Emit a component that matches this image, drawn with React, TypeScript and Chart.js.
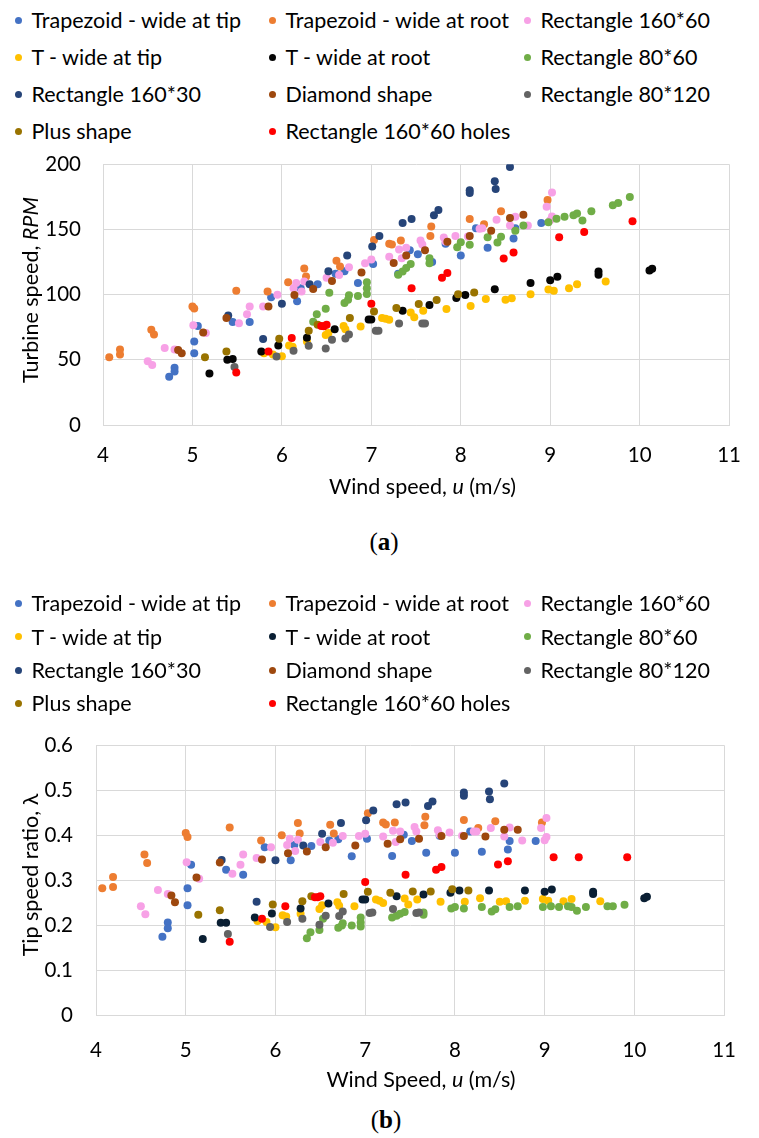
import React, { useEffect, useRef } from "react";
import { Chart, registerables } from "chart.js";

Chart.register(...registerables);

// ---------------- data ----------------
const seriesNames = [
  "Trapezoid - wide at tip",
  "Trapezoid - wide at root",
  "Rectangle 160*60",
  "T - wide at tip",
  "T - wide at root",
  "Rectangle 80*60",
  "Rectangle 160*30",
  "Diamond shape",
  "Rectangle 80*120",
  "Plus shape",
  "Rectangle 160*60 holes",
];

const colorsA = ["#4472C4", "#ED7D31", "#F7A1E6", "#FFC000", "#050505", "#70AD47", "#264478", "#9E480E", "#636363", "#997300", "#FF0000"];
const colorsB = ["#4472C4", "#ED7D31", "#F7A1E6", "#FFC000", "#0A1F33", "#70AD47", "#264478", "#9E480E", "#636363", "#997300", "#FF0000"];

const xTicks = [4, 5, 6, 7, 8, 9, 10, 11];
const rpmTicks = [0, 50, 100, 150, 200];
const tsrTicks = [0, 0.1, 0.2, 0.3, 0.4, 0.5, 0.6];

const trapTipX = [4.74, 4.8, 4.8, 5.02, 5.02, 5.06, 5.45, 5.64, 5.88, 6.17, 6.21, 6.4, 6.6, 6.7, 6.85, 7.02, 7.3, 7.43, 7.52, 7.68, 7.83, 8.0, 8.17, 8.3, 8.59, 8.61, 8.9];
const trapTipRpm = [37, 44, 41, 64, 55, 76, 79, 79, 98, 95, 105, 108, 116, 118, 109, 123.5, 116, 134, 131, 125, 139, 130, 151, 136, 143, 151, 155];
const trapTipTsr = [0.174, 0.206, 0.193, 0.282, 0.244, 0.334, 0.323, 0.312, 0.373, 0.344, 0.378, 0.376, 0.388, 0.391, 0.353, 0.392, 0.354, 0.401, 0.387, 0.361, 0.399, 0.361, 0.408, 0.363, 0.368, 0.387, 0.387];

const trapRootX = [4.07, 4.19, 4.19, 4.54, 4.57, 5.0, 5.02, 5.49, 5.84, 6.07, 6.25, 6.27, 6.61, 6.65, 7.03, 7.2, 7.23, 7.33, 7.66, 7.67, 8.1, 8.26, 8.45, 8.97];
const trapRootRpm = [52, 58, 54, 73, 69.5, 91, 89.4, 103, 102.5, 109.5, 120, 114, 126, 121.5, 142, 139, 138.5, 141.5, 145, 152.3, 158, 154, 164, 172.6];
const trapRootTsr = [0.282, 0.307, 0.285, 0.357, 0.338, 0.405, 0.396, 0.417, 0.388, 0.4, 0.427, 0.404, 0.423, 0.404, 0.449, 0.428, 0.424, 0.428, 0.422, 0.441, 0.434, 0.416, 0.431, 0.428];

const rect16060X = [4.5, 4.55, 4.69, 4.8, 5.01, 5.15, 5.52, 5.61, 5.64, 5.79, 5.95, 6.13, 6.16, 6.22, 6.25, 6.5, 6.64, 6.75, 6.93, 7.0, 7.2, 7.31, 7.34, 7.39, 7.55, 7.57, 7.81, 7.83, 7.94, 8.08, 8.21, 8.24, 8.4, 8.55, 8.61, 8.75, 8.96, 9.02, 9.02, 9.0];
const rect16060Rpm = [49, 46, 59, 58, 76.5, 70.5, 78, 85, 91, 91, 100, 105, 109, 102.5, 110, 113, 115, 121, 124, 127, 129, 134.6, 128, 136, 141.5, 138.4, 143.8, 140.8, 145, 144.7, 150.6, 151, 157.4, 153, 159.8, 153, 167.4, 178.3, 160, 157];
const rect16060Tsr = [0.242, 0.224, 0.278, 0.269, 0.34, 0.303, 0.314, 0.334, 0.357, 0.349, 0.373, 0.378, 0.392, 0.365, 0.39, 0.385, 0.383, 0.398, 0.398, 0.403, 0.397, 0.41, 0.385, 0.408, 0.418, 0.408, 0.411, 0.401, 0.406, 0.399, 0.408, 0.408, 0.416, 0.397, 0.417, 0.388, 0.416, 0.438, 0.396, 0.389];

const tTipX = [5.8, 5.9, 6.0, 6.08, 6.12, 6.28, 6.49, 6.52, 6.69, 6.71, 6.88, 7.12, 7.16, 7.2, 7.44, 7.48, 7.58, 7.84, 8.11, 8.28, 8.5, 8.57, 8.78, 8.98, 9.04, 9.21, 9.3, 9.62];
const tTipRpm = [55, 54, 52.7, 61, 60, 64, 69, 70.5, 76, 73.5, 75.5, 82, 81.5, 80.8, 86.4, 82.7, 87.7, 88.9, 91.3, 96.7, 96, 97.3, 100.3, 104, 103, 105, 108, 110];
const tTipTsr = [0.209, 0.207, 0.195, 0.222, 0.219, 0.225, 0.236, 0.244, 0.251, 0.243, 0.242, 0.257, 0.254, 0.249, 0.259, 0.246, 0.257, 0.252, 0.252, 0.26, 0.252, 0.253, 0.254, 0.258, 0.254, 0.253, 0.258, 0.253];

const tRootX = [5.19, 5.39, 5.45, 5.77, 5.96, 6.28, 6.59, 6.97, 7.0, 7.35, 7.65, 7.95, 8.05, 8.38, 8.78, 9.0, 9.08, 9.54, 9.54, 10.11, 10.14];
const tRootRpm = [39.5, 50, 50.6, 56.3, 61, 67, 73.5, 81, 81, 87.7, 92, 97.5, 99.8, 104.2, 108.9, 111, 113.8, 117.8, 115.3, 118.5, 119.8];
const tRootTsr = [0.169, 0.205, 0.205, 0.217, 0.226, 0.237, 0.248, 0.257, 0.257, 0.264, 0.268, 0.272, 0.277, 0.277, 0.277, 0.274, 0.279, 0.274, 0.269, 0.26, 0.263];

const rect8060X = [6.35, 6.39, 6.49, 6.53, 6.7, 6.74, 6.75, 6.85, 6.95, 6.95, 6.95, 7.3, 7.35, 7.39, 7.44, 7.65, 7.65, 7.96, 8.0, 8.1, 8.3, 8.41, 8.45, 8.61, 8.7, 8.98, 9.07, 9.16, 9.26, 9.3, 9.36, 9.46, 9.7, 9.76, 9.89];
const rect8060Rpm = [79.3, 85, 89.1, 101.5, 93.5, 96, 99.5, 99, 109.5, 105, 100.5, 115.3, 117.8, 120.5, 123.5, 128, 124, 136.3, 140.2, 138.3, 144, 140, 144.4, 149, 153, 155.6, 158.3, 159.8, 161, 162.2, 156.8, 164, 168.6, 170.4, 175];
const rect8060Tsr = [0.171, 0.184, 0.189, 0.214, 0.194, 0.199, 0.204, 0.199, 0.217, 0.206, 0.197, 0.217, 0.221, 0.225, 0.229, 0.228, 0.223, 0.237, 0.24, 0.237, 0.24, 0.23, 0.235, 0.24, 0.242, 0.24, 0.242, 0.24, 0.242, 0.24, 0.232, 0.24, 0.242, 0.242, 0.245];

const rect16030X = [5.4, 5.79, 6.0, 6.31, 6.52, 6.73, 7.01, 7.09, 7.35, 7.45, 7.7, 7.75, 8.1, 8.1, 8.38, 8.39, 8.55];
const rect16030Rpm = [84, 66, 93, 108, 118, 130, 137, 145, 155, 158, 161, 165, 180, 178, 187, 181, 198];
const rect16030Tsr = [0.345, 0.252, 0.344, 0.377, 0.403, 0.427, 0.433, 0.455, 0.469, 0.473, 0.465, 0.475, 0.495, 0.488, 0.497, 0.48, 0.515];

const diamondX = [4.84, 4.88, 5.12, 5.38, 5.85, 6.14, 6.35, 6.56, 6.89, 7.25, 7.39, 7.6, 7.85, 8.1, 8.34, 8.55, 8.7];
const diamondRpm = [57.5, 55, 71, 82, 91, 99.7, 104.3, 110.5, 117, 124.3, 130, 134, 140.6, 145, 149, 158.8, 161.3];
const diamondTsr = [0.266, 0.251, 0.306, 0.339, 0.346, 0.36, 0.364, 0.373, 0.377, 0.381, 0.391, 0.392, 0.398, 0.398, 0.397, 0.412, 0.412];

const rect80120X = [5.47, 5.94, 6.13, 6.3, 6.49, 6.56, 6.71, 6.75, 7.05, 7.08, 7.31, 7.57, 7.6];
const rect80120Rpm = [44.4, 52.5, 57, 60.8, 58.7, 65.4, 66.4, 69.5, 72.4, 72.4, 77.8, 77.8, 77.8];
const rect80120Tsr = [0.18, 0.196, 0.207, 0.214, 0.201, 0.221, 0.22, 0.23, 0.227, 0.228, 0.236, 0.227, 0.228];

const plusX = [5.14, 5.38, 5.97, 6.3, 6.4, 6.76, 7.03, 7.28, 7.53, 7.73, 7.97, 8.15];
const plusRpm = [52, 56.3, 66.2, 72.3, 77, 82, 87, 89.8, 92.8, 95.8, 100.3, 101.7];
const plusTsr = [0.223, 0.233, 0.246, 0.253, 0.264, 0.269, 0.274, 0.272, 0.275, 0.275, 0.28, 0.277];

const holesX = [5.49, 5.85, 6.11, 6.44, 6.47, 6.5, 7.0, 7.45, 7.79, 7.85, 8.48, 8.59, 9.1, 9.38, 9.92];
const holesRpm = [40.2, 56.4, 66.8, 75.9, 75.8, 77, 93, 105, 113, 116.7, 127.7, 132.4, 144, 148, 156.3];
const holesTsr = [0.163, 0.214, 0.242, 0.262, 0.262, 0.264, 0.296, 0.312, 0.323, 0.329, 0.335, 0.342, 0.351, 0.351, 0.351];

const seriesX = [trapTipX, trapRootX, rect16060X, tTipX, tRootX, rect8060X, rect16030X, diamondX, rect80120X, plusX, holesX];
const seriesRpm = [trapTipRpm, trapRootRpm, rect16060Rpm, tTipRpm, tRootRpm, rect8060Rpm, rect16030Rpm, diamondRpm, rect80120Rpm, plusRpm, holesRpm];
const seriesTsr = [trapTipTsr, trapRootTsr, rect16060Tsr, tTipTsr, tRootTsr, rect8060Tsr, rect16030Tsr, diamondTsr, rect80120Tsr, plusTsr, holesTsr];

// ---------------- layout ----------------
const FONT = "Lato, 'Open Sans', sans-serif";
const TEXT_SIZE = 21.5;
const W = 759;

type PanelLayout = {
  canvasTop: number;
  canvasHeight: number;
  padTop: number;
  padRight: number;
  yAxisWidth: number;
  xAxisHeight: number;
  xTickPad: number;
  yTickPad: number;
};

const layoutA: PanelLayout = { canvasTop: 130, canvasHeight: 345, padTop: 25, padRight: 17, yAxisWidth: 103, xAxisHeight: 50, xTickPad: 18, yTickPad: 22 };
const layoutB: PanelLayout = { canvasTop: 710, canvasHeight: 365, padTop: 24, padRight: 12, yAxisWidth: 96, xAxisHeight: 60, xTickPad: 23, yTickPad: 23 };

function makeConfig(ys: number[][], colors: string[], yTicks: number[], L: PanelLayout): any {
  const n = seriesNames.length;
  const datasets = seriesNames.map((name, i) => ({
    label: name,
    data: seriesX[i].map((x, j) => ({ x, y: ys[i][j] })),
    backgroundColor: colors[i],
    borderColor: colors[i],
    pointRadius: 4,
    pointBorderWidth: 0,
    pointHoverRadius: 4,
    order: n - i,
    showLine: false,
  }));
  const yMin = yTicks[0];
  const yMax = yTicks[yTicks.length - 1];
  const yStep = yTicks[1] - yTicks[0];
  const tickFont = { family: FONT, size: 20.5 };
  return {
    type: "scatter",
    data: { datasets },
    options: {
      responsive: false,
      animation: false,
      events: [],
      layout: { padding: { top: L.padTop, right: L.padRight, left: 0, bottom: 0 } },
      plugins: { legend: { display: false }, tooltip: { enabled: false }, title: { display: false } },
      scales: {
        x: {
          type: "linear",
          min: xTicks[0],
          max: xTicks[xTicks.length - 1],
          ticks: { stepSize: 1, padding: L.xTickPad, color: "#000", font: tickFont },
          grid: { color: "#D9D9D9", lineWidth: 1, drawTicks: false },
          border: { color: "#D9D9D9", width: 1 },
          afterFit: (s: any) => {
            s.height = L.xAxisHeight;
          },
        },
        y: {
          type: "linear",
          min: yMin,
          max: yMax,
          ticks: {
            stepSize: yStep,
            padding: L.yTickPad,
            color: "#000",
            font: tickFont,
            callback: (v: any) => String(Math.round(Number(v) * 10) / 10),
          },
          grid: { color: "#D9D9D9", lineWidth: 1, drawTicks: false },
          border: { color: "#D9D9D9", width: 1 },
          afterFit: (s: any) => {
            s.width = L.yAxisWidth;
          },
        },
      },
    },
  };
}

function ChartCanvas({ ys, colors, yTicks, L }: { ys: number[][]; colors: string[]; yTicks: number[]; L: PanelLayout }) {
  const ref = useRef<HTMLCanvasElement | null>(null);
  useEffect(() => {
    if (!ref.current) return;
    const chart = new Chart(ref.current, makeConfig(ys, colors, yTicks, L));
    return () => chart.destroy();
  }, []);
  return (
    <canvas
      ref={ref}
      width={W}
      height={L.canvasHeight}
      style={{ position: "absolute", left: 0, top: L.canvasTop, width: W, height: L.canvasHeight }}
    />
  );
}

const legendColX = [18, 272, 527];

function Legend({ rowY, colors }: { rowY: number[]; colors: string[] }) {
  return (
    <>
      {seriesNames.map((name, i) => {
        const row = Math.floor(i / 3);
        const col = i % 3;
        const cx = legendColX[col];
        const cy = rowY[row];
        return (
          <div key={name}>
            <div
              style={{
                position: "absolute",
                left: cx - 3.5,
                top: cy - 3.5,
                width: 7,
                height: 7,
                borderRadius: "50%",
                background: colors[i],
              }}
            />
            <div
              style={{
                position: "absolute",
                left: cx + 13.5,
                top: cy - 13.2,
                fontFamily: FONT,
                fontSize: TEXT_SIZE,
                lineHeight: "26px",
                color: "#000",
                whiteSpace: "nowrap",
              }}
            >
              {name}
            </div>
          </div>
        );
      })}
    </>
  );
}

function YTitle({ cx, cy, children }: { cx: number; cy: number; children: React.ReactNode }) {
  return (
    <div
      style={{
        position: "absolute",
        left: cx - 200,
        top: cy - 13,
        width: 400,
        height: 26,
        lineHeight: "26px",
        textAlign: "center",
        transform: "rotate(-90deg)",
        fontFamily: FONT,
        fontSize: TEXT_SIZE,
        color: "#000",
        whiteSpace: "nowrap",
      }}
    >
      {children}
    </div>
  );
}

function XTitle({ cx, cy, children }: { cx: number; cy: number; children: React.ReactNode }) {
  return (
    <div
      style={{
        position: "absolute",
        left: cx - 200,
        top: cy - 13.2,
        width: 400,
        lineHeight: "26px",
        textAlign: "center",
        fontFamily: FONT,
        fontSize: TEXT_SIZE,
        color: "#000",
        whiteSpace: "nowrap",
      }}
    >
      {children}
    </div>
  );
}

function Caption({ cx, cy, letter }: { cx: number; cy: number; letter: string }) {
  return (
    <div
      style={{
        position: "absolute",
        left: cx - 50,
        top: cy - 15,
        width: 100,
        lineHeight: "30px",
        textAlign: "center",
        fontFamily: "'Liberation Serif', 'DejaVu Serif', serif",
        fontSize: 25,
        color: "#000",
      }}
    >
      (<b>{letter}</b>)
    </div>
  );
}

export default function App() {
  return (
    <div style={{ position: "absolute", left: 0, top: 0, width: W, height: 1138, background: "#fff", overflow: "hidden" }}>
      <Legend rowY={[20, 57, 94.3, 131.6]} colors={colorsA} />
      <ChartCanvas ys={seriesRpm} colors={colorsA} yTicks={rpmTicks} L={layoutA} />
      <YTitle cx={30} cy={290}>
        Turbine speed, <i>RPM</i>
      </YTitle>
      <XTitle cx={422.5} cy={486}>
        Wind speed, <i>u</i> (m/s)
      </XTitle>
      <Caption cx={384} cy={542} letter="a" />

      <Legend rowY={[603.3, 636.7, 670, 703.3]} colors={colorsB} />
      <ChartCanvas ys={seriesTsr} colors={colorsB} yTicks={tsrTicks} L={layoutB} />
      <YTitle cx={30} cy={875}>
        Tip speed ratio, λ
      </YTitle>
      <XTitle cx={421} cy={1079}>
        Wind Speed, <i>u</i> (m/s)
      </XTitle>
      <Caption cx={386} cy={1120} letter="b" />
    </div>
  );
}
